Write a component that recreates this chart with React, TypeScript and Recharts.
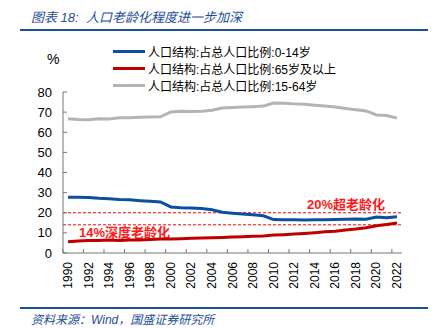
import { LineChart, Line, XAxis, YAxis, ReferenceLine } from "recharts";

const years = [
  "1990", "1991", "1992", "1993", "1994", "1995", "1996", "1997", "1998", "1999",
  "2000", "2001", "2002", "2003", "2004", "2005", "2006", "2007", "2008", "2009",
  "2010", "2011", "2012", "2013", "2014", "2015", "2016", "2017", "2018", "2019",
  "2020", "2021", "2022",
];
const age0to14 = [
  27.7, 27.7, 27.6, 27.2, 27.0, 26.6, 26.4, 26.0, 25.7, 25.4,
  22.9, 22.5, 22.4, 22.1, 21.5, 20.3, 19.8, 19.4, 19.0, 18.5,
  16.6, 16.5, 16.5, 16.4, 16.5, 16.5, 16.7, 16.8, 16.9, 16.8,
  17.9, 17.5, 18.0,
];
const age65plus = [
  5.6, 6.0, 6.2, 6.2, 6.4, 6.2, 6.4, 6.5, 6.7, 6.9,
  7.0, 7.1, 7.3, 7.5, 7.6, 7.7, 7.9, 8.1, 8.3, 8.5,
  8.9, 9.1, 9.4, 9.7, 10.1, 10.5, 10.8, 11.4, 11.9, 12.6,
  13.5, 14.2, 14.9,
];
const age15to64 = [
  66.7, 66.3, 66.2, 66.7, 66.6, 67.2, 67.2, 67.5, 67.6, 67.7,
  70.1, 70.4, 70.3, 70.4, 70.9, 72.0, 72.3, 72.5, 72.7, 73.0,
  74.5, 74.4, 74.1, 73.9, 73.4, 73.0, 72.5, 71.8, 71.2, 70.6,
  68.6, 68.3, 67.0,
];
const yTicks = [0, 10, 20, 30, 40, 50, 60, 70, 80];

const seriesNames = [
  "人口结构:占总人口比例:0-14岁",
  "人口结构:占总人口比例:65岁及以上",
  "人口结构:占总人口比例:15-64岁",
];
const seriesColors = ["#0B4EA2", "#C00000", "#B4B4B4"];

const data = years.map((year, i) => ({
  year,
  young: age0to14[i],
  old: age65plus[i],
  working: age15to64[i],
}));

const W = 437;
const H = 328;
const margin = { top: 92, right: 35, bottom: 45, left: 20 };
const yAxisWidth = 43;
const xPad = 5;
const plotW = W - margin.left - yAxisWidth - margin.right;
const step = (plotW - xPad * 2) / (years.length - 1);

const latin = "'Liberation Sans', Arial, sans-serif";
const cjk = "'Liberation Sans', Arial, 'Noto Sans CJK SC', sans-serif";

const XTick = (props: any) => {
  const { x, y, payload } = props;
  return (
    <g>
      <line x1={x - step / 2} x2={x - step / 2} y1={y - 4} y2={y} stroke="#777" />
      <text
        transform={`translate(${x},${y + 9}) rotate(-90)`}
        textAnchor="end"
        dominantBaseline="central"
        fontSize={12}
        fontFamily={latin}
        fill="#000"
      >
        {payload.value}
      </text>
    </g>
  );
};

const YTick = (props: any) => {
  const { x, y, payload } = props;
  return (
    <g>
      <line x1={x} x2={x + 4} y1={y} y2={y} stroke="#777" />
      <text x={x - 11} y={y} dy={4.5} textAnchor="end" fontSize={13} fontFamily={latin} fill="#000">
        {payload.value}
      </text>
    </g>
  );
};

const superAgedLabel = (props: any) => {
  const { viewBox } = props;
  return (
    <text
      x={viewBox.x + viewBox.width - 17}
      y={viewBox.y - 4}
      textAnchor="end"
      fontSize={13}
      fontWeight="bold"
      fontFamily={cjk}
      fill="#FF1A1A"
    >
      20%超老龄化
    </text>
  );
};

const deepAgedLabel = (props: any) => {
  const { viewBox } = props;
  return (
    <text
      x={viewBox.x + 16}
      y={viewBox.y + 12}
      textAnchor="start"
      fontSize={13}
      fontWeight="bold"
      fontFamily={cjk}
      fill="#FF1A1A"
    >
      14%深度老龄化
    </text>
  );
};

export default function App() {
  return (
    <div style={{ position: "absolute", left: 0, top: 0, width: W, height: H, background: "#fff", fontFamily: cjk }}>
      <div
        style={{
          position: "absolute", left: 31, top: 7, fontSize: 13, fontStyle: "italic",
          color: "#1F4E9A", whiteSpace: "nowrap",
        }}
      >
        图表 18:&nbsp; 人口老龄化程度进一步加深
      </div>
      <div style={{ position: "absolute", left: 20, top: 29, width: 408, height: 2, background: "#1F4E9A" }} />

      <div style={{ position: "absolute", left: 47, top: 51, fontSize: 14, fontFamily: latin }}>%</div>

      {seriesNames.map((name, i) => (
        <div
          key={name}
          style={{
            position: "absolute", left: 113, top: 43 + i * 17.2, height: 16,
            display: "flex", alignItems: "center", whiteSpace: "nowrap", fontSize: 12, color: "#000",
          }}
        >
          <span style={{ display: "inline-block", width: 32, height: 3, background: seriesColors[i], marginRight: 3 }} />
          {name}
        </div>
      ))}

      <div style={{ position: "absolute", left: 0, top: 0 }}>
        <LineChart width={W} height={H} data={data} margin={margin}>
          <XAxis
            dataKey="year"
            interval={1}
            padding={{ left: xPad, right: xPad }}
            tickSize={0}
            tickMargin={0}
            tick={<XTick />}
            stroke="#777"
            height={30}
          />
          <YAxis
            domain={[0, 80]}
            ticks={yTicks}
            interval={0}
            tickSize={0}
            tickMargin={0}
            tick={<YTick />}
            stroke="#777"
            width={yAxisWidth}
          />
          <ReferenceLine y={20} stroke="#FF0000" strokeDasharray="3 2" label={superAgedLabel} />
          <ReferenceLine y={14} stroke="#FF0000" strokeDasharray="3 2" label={deepAgedLabel} />
          <Line dataKey="working" stroke={seriesColors[2]} strokeWidth={3} dot={false} isAnimationActive={false} />
          <Line dataKey="young" stroke={seriesColors[0]} strokeWidth={3} dot={false} isAnimationActive={false} />
          <Line dataKey="old" stroke={seriesColors[1]} strokeWidth={3} dot={false} isAnimationActive={false} />
        </LineChart>
      </div>

      <div style={{ position: "absolute", left: 20, top: 307, width: 408, height: 2, background: "#1F4E9A" }} />
      <div
        style={{
          position: "absolute", left: 31, top: 310, fontSize: 12, fontStyle: "italic",
          color: "#1F4E9A", whiteSpace: "nowrap",
        }}
      >
        资料来源：Wind，国盛证券研究所
      </div>
    </div>
  );
}
